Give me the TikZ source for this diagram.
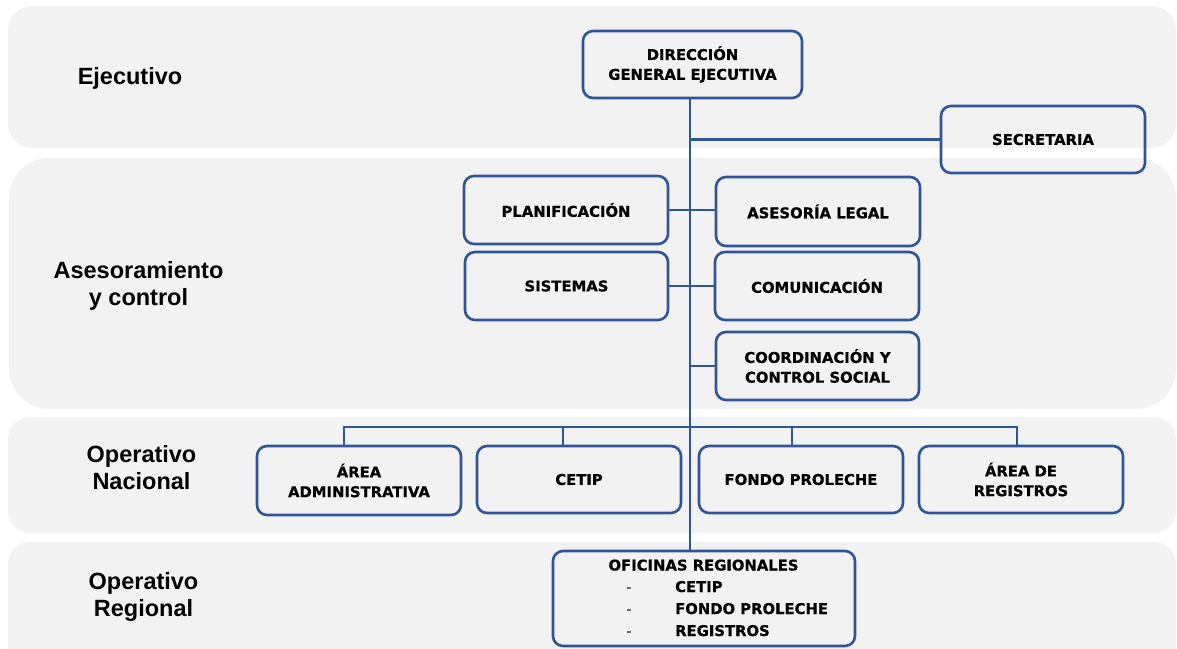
\documentclass[tikz,border=0pt]{standalone}
\usepackage{fontspec}
\setmainfont{DejaVu Sans}[BoldFeatures={FakeBold=0.6}]
\newfontfamily\lblfamily{Liberation Sans}
\definecolor{bandgray}{RGB}{242,242,242}
\definecolor{boxblue}{RGB}{47,85,151}
\newcommand\orgboxfont{\bfseries\fontsize{14.8}{19.8}\selectfont}
\newcommand\orglblfont{\lblfamily\bfseries\fontsize{23.5}{27}\selectfont}
\begin{document}
\begin{tikzpicture}[x=1pt,y=-1pt,
  box/.style={draw=boxblue, line width=2.6pt, rounded corners=10pt, align=center, font=\orgboxfont, inner sep=2pt},
  conn/.style={draw=boxblue, line width=2.5pt},
  lvl/.style={font=\orglblfont, align=center, inner sep=0pt},
  itemtxt/.style={font=\orgboxfont, inner sep=0pt},
  dashtxt/.style={font=\fontsize{14.5}{19.5}\selectfont, inner sep=0pt}
]
\useasboundingbox (0,0) rectangle (1177,648);
\clip (0,0) rectangle (1177,648);
% bands
\fill[bandgray, rounded corners=24pt] (8,6) rectangle (1176,148);
\fill[bandgray, rounded corners=40pt] (9,158) rectangle (1176,409);
\fill[bandgray, rounded corners=22pt] (8,417) rectangle (1176,533);
\fill[bandgray, rounded corners=22pt] (8,542) rectangle (1176,680);
% level labels
\node[lvl] (l1) at (130,78) {Ejecutivo};
\node[lvl] (l2) at (138.5,286) {Asesoramiento\\y control};
\node[lvl] (l3) at (141.5,468) {Operativo\\Nacional};
\node[lvl] (l4) at (143.5,597) {Operativo\\Regional};
% boxes
\node[box, minimum width=219, minimum height=67] (dir) at (692.5,64.5) {DIRECCIÓN\\GENERAL EJECUTIVA};
\node[box, minimum width=204, minimum height=67] (sec) at (1043,139.5) {SECRETARIA};
\node[box, minimum width=204, minimum height=68] (plan) at (566,210) {PLANIFICACIÓN};
\node[box, minimum width=204, minimum height=69] (ases) at (818,211.5) {ASESORÍA LEGAL};
\node[box, minimum width=203, minimum height=68] (sist) at (566.5,286) {SISTEMAS};
\node[box, minimum width=204, minimum height=68] (comu) at (817,286) {COMUNICACIÓN};
\node[box, minimum width=203, minimum height=68] (coord) at (817.5,366) {COORDINACIÓN Y\\CONTROL SOCIAL};
\node[box, minimum width=204, minimum height=69] (area) at (359,480.5) {ÁREA\\ADMINISTRATIVA};
\node[box, minimum width=204, minimum height=67] (cetip) at (579,479.5) {CETIP};
\node[box, minimum width=204, minimum height=67] (fondo) at (801,479.5) {FONDO PROLECHE};
\node[box, minimum width=204, minimum height=67] (reg) at (1021,479.5) {ÁREA DE\\REGISTROS};
\node[box, minimum width=302, minimum height=95] (ofi) at (704,598.5) {};
% text of regional offices
\node[itemtxt, anchor=base] (otit) at (703.5,570.5) {OFICINAS REGIONALES};
\node[dashtxt, anchor=base] (d1) at (629,592) {-};
\node[dashtxt, anchor=base] (d2) at (629,614) {-};
\node[dashtxt, anchor=base] (d3) at (629,636) {-};
\node[itemtxt, anchor=base west] (i1) at (675,592) {CETIP};
\node[itemtxt, anchor=base west] (i2) at (675,614) {FONDO PROLECHE};
\node[itemtxt, anchor=base west] (i3) at (675,636) {REGISTROS};
% connectors
\coordinate (t) at (690,0);
\draw[conn] (t |- dir.south) -- (t |- ofi.north);
\draw[conn] (t |- sec.west) -- (sec.west);
\draw[conn] (plan.east) -- (plan.east -| ases.west);
\draw[conn] (sist.east) -- (sist.east -| comu.west);
\draw[conn] (t |- coord.west) -- (coord.west);
\coordinate (b1) at (344,427);
\coordinate (b2) at (563,427);
\coordinate (b3) at (792,427);
\coordinate (b4) at (1017,427);
\draw[conn, line cap=rect] (b1) -- (b4);
\draw[conn] (b1) -- (b1 |- area.north);
\draw[conn] (b2) -- (b2 |- cetip.north);
\draw[conn] (b3) -- (b3 |- fondo.north);
\draw[conn] (b4) -- (b4 |- reg.north);
\end{tikzpicture}
\end{document}
